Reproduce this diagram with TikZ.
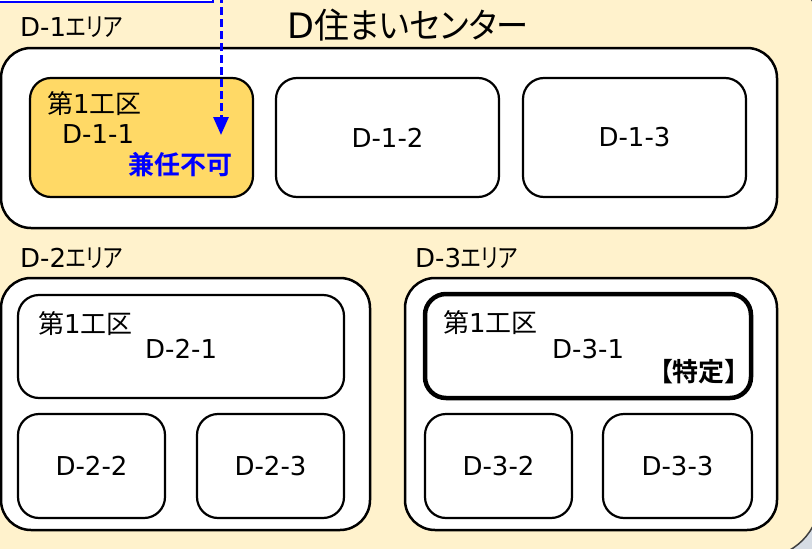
\documentclass[tikz,border=0pt]{standalone}
\usepackage{fontspec}
\setmainfont{DejaVu Sans}
\newfontfamily\jp{Noto Sans CJK JP}[RawFeature=+palt, BoldFont={Noto Sans CJK JP Bold}]
\newfontfamily\jk{Noto Sans CJK JP}[RawFeature=+palt, FakeStretch=0.81]
\newfontfamily\jt{Noto Sans CJK JP}[RawFeature=+palt, FakeStretch=0.92]
\usetikzlibrary{arrows.meta}
\definecolor{bgyellow}{HTML}{FFF2CC}
\definecolor{goldbox}{HTML}{FFD966}
\definecolor{outgray}{HTML}{D6DCE4}
\definecolor{edgegray}{HTML}{404040}
\begin{document}
\begin{tikzpicture}[x=1pt,y=-1pt,
  areabox/.style={draw=black, line width=2.5pt, fill=white, rounded corners=30pt, inner sep=0pt},
  cellbox/.style={draw=black, line width=2.2pt, fill=white, rounded corners=21pt, inner sep=0pt,
    font=\fontsize{26}{30}\selectfont},
  lbl/.style={inner sep=0pt, font=\fontsize{26}{30}\selectfont},
  titlelbl/.style={inner sep=0pt, font=\fontsize{35}{40}\selectfont},
  notebox/.style={draw=blue, fill=white, line width=2pt, inner sep=0pt},
  linkarrow/.style={blue, line width=3pt, dash pattern=on 8pt off 4pt,
    -{Triangle[length=18pt,width=15pt]}}
]
\useasboundingbox (0,0) rectangle (812,549);
\clip (0,0) rectangle (812,549);
% background
\fill[outgray] (0,0) rectangle (812,549);
\draw[edgegray, line width=1.5pt, fill=bgyellow, rounded corners=60pt] (-30,-30) rectangle (820,558);
% note box (cut at top)
\node[notebox, minimum width=218pt, minimum height=32pt] (note) at (104,-14.5) {};
% titles
\node[titlelbl, anchor=base west] (title) at (287,38) {D{\jp 住}{\jt まいセンター}};
\node[lbl, anchor=base west] (t1) at (20,36) {D-1{\jk エリア}};
\node[lbl, anchor=base west] (t2) at (20,267) {D-2{\jk エリア}};
\node[lbl, anchor=base west] (t3) at (415,267) {D-3{\jk エリア}};
% areas
\node[areabox, minimum width=776pt, minimum height=180pt] (a1) at (389,138) {};
\node[areabox, minimum width=369pt, minimum height=252pt] (a2) at (185.5,404) {};
\node[areabox, minimum width=372pt, minimum height=252pt] (a3) at (591,404) {};
% D-1 cells
\node[cellbox, fill=goldbox, minimum width=223pt, minimum height=119pt] (d11) at (141.5,137.5) {};
\node[cellbox, minimum width=223pt, minimum height=119pt] (d12) at (387.5,137.5) {D-1-2};
\node[cellbox, minimum width=223pt, minimum height=119pt] (d13) at (634.5,137.5) {D-1-3};
% D-2 cells
\node[cellbox, minimum width=326pt, minimum height=103pt] (d21) at (181,346.5) {};
\node[cellbox, minimum width=147pt, minimum height=104pt] (d22) at (91.5,466) {D-2-2};
\node[cellbox, minimum width=147pt, minimum height=104pt] (d23) at (270.5,466) {D-2-3};
% D-3 cells
\node[cellbox, line width=4.5pt, minimum width=326pt, minimum height=104pt] (d31) at (588,346) {};
\node[cellbox, minimum width=147pt, minimum height=104pt] (d32) at (498.5,466) {D-3-2};
\node[cellbox, minimum width=149pt, minimum height=104pt] (d33) at (677.5,466) {D-3-3};
% texts inside cells
\node[lbl, anchor=base west] (k11) at (47,113) {{\jp 第}1{\jp 工区}};
\node[lbl, anchor=base west] (n11) at (62,143) {D-1-1};
\node[lbl, anchor=base east, text=blue] (x11) at (233,174) {\jp\bfseries 兼任不可};
\node[lbl, anchor=base west] (k21) at (38,333) {{\jp 第}1{\jp 工区}};
\node[lbl, anchor=base west] (n21) at (145,358) {D-2-1};
\node[lbl, anchor=base west] (k31) at (443,332) {{\jp 第}1{\jp 工区}};
\node[lbl, anchor=base west] (n31) at (552,358) {D-3-1};
\node[lbl, anchor=base east] (s31) at (738,381) {\jp\bfseries 【特定】};
% dashed arrow
\coordinate (arrtop) at (221,-5);
\coordinate (arrtip) at (221,135);
\draw[linkarrow] (arrtop) -- (arrtip);
\end{tikzpicture}
\end{document}
